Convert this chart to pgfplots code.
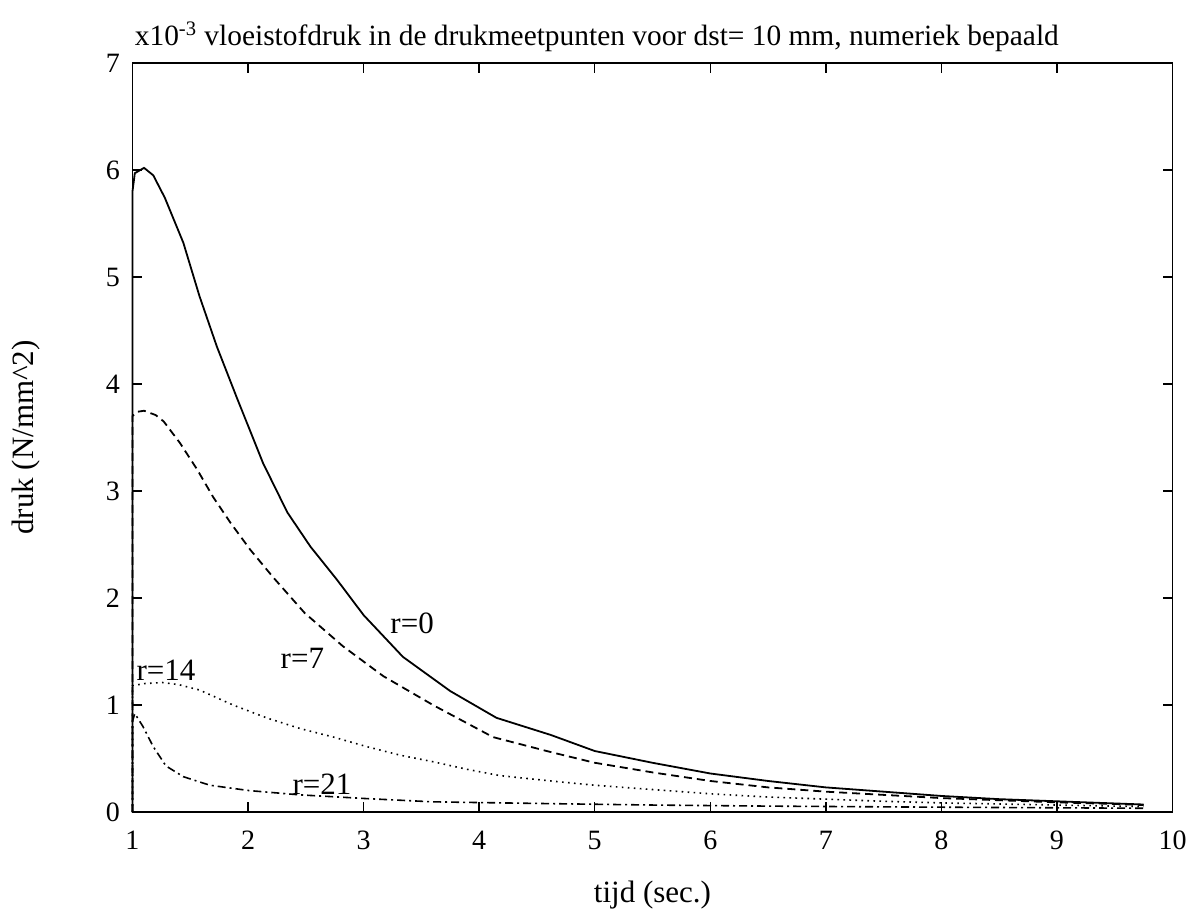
\documentclass[border=0pt]{standalone}
\usepackage{fontspec}
\setmainfont{Liberation Serif}
\usepackage{pgfplots}
\pgfplotsset{compat=1.18}
\begin{document}
\fontsize{15.5bp}{18bp}\selectfont
\begin{tikzpicture}
\begin{axis}[
  scale only axis,
  width=520bp, height=374.5bp,
  at={(0,0)}, anchor=south west,
  xmin=1, xmax=10, ymin=0, ymax=7,
  xtick={1,2,...,10}, ytick={0,1,...,7},
  tick align=inside,
  major tick length=5bp,
  xtick pos=both, ytick pos=both,
  /pgf/number format/assume math mode=true,
  tick label style={font=\fontsize{14bp}{16bp}\selectfont},
  xticklabel style={yshift=-4bp},
  yticklabel style={xshift=-1bp},
  axis line style={line width=0.9bp},
  every tick/.style={black, line width=0.7bp},
  clip=false,
]
\addplot[black, line width=0.9bp] coordinates {
(1,0) (1.0,5.8) (1.02,5.97) (1.1,6.02) (1.18,5.95) (1.28,5.74) (1.44,5.32) (1.58,4.82) (1.73,4.35) (1.9,3.88) (2.13,3.26) (2.34,2.80) (2.54,2.48) (2.77,2.17) (3.0,1.84) (3.34,1.45) (3.75,1.13) (4.15,0.88) (4.62,0.72) (5.0,0.57) (5.5,0.46) (6.0,0.36) (6.5,0.29) (7.0,0.23) (7.5,0.19) (8.0,0.15) (8.5,0.12) (9.0,0.10) (9.5,0.08) (9.75,0.07)
};
\addplot[black, line width=0.9bp, dash pattern=on 4bp off 2.5bp] coordinates {
(1,0) (1.0,3.7) (1.04,3.74) (1.1,3.75) (1.2,3.71) (1.27,3.65) (1.41,3.45) (1.56,3.2) (1.70,2.94) (1.85,2.70) (2.02,2.45) (2.22,2.19) (2.49,1.86) (2.82,1.55) (3.17,1.27) (3.6,1.0) (4.12,0.70) (4.62,0.56) (5.0,0.46) (5.5,0.37) (6.0,0.29) (6.5,0.23) (7.0,0.19) (7.5,0.16) (8.0,0.13) (8.5,0.11) (9.0,0.09) (9.5,0.075) (9.75,0.065)
};
\addplot[black, line width=0.8bp, dash pattern=on 0.8bp off 2.2bp] coordinates {
(1,0) (1.0,1.18) (1.1,1.2) (1.26,1.21) (1.4,1.19) (1.58,1.14) (1.87,1.0) (2.16,0.88) (2.45,0.78) (2.74,0.70) (3.03,0.61) (3.32,0.53) (3.6,0.47) (3.89,0.40) (4.18,0.34) (4.62,0.29) (5.0,0.25) (5.5,0.21) (6.0,0.17) (6.5,0.14) (7.0,0.12) (7.5,0.10) (8.0,0.085) (8.5,0.075) (9.0,0.065) (9.5,0.055) (9.75,0.05)
};
\addplot[black, line width=0.8bp, dash pattern=on 4bp off 2bp on 1bp off 2bp] coordinates {
(1,0) (1.0,0.85) (1.02,0.92) (1.09,0.80) (1.18,0.61) (1.29,0.43) (1.44,0.33) (1.67,0.25) (2.01,0.20) (2.45,0.16) (3.03,0.125) (3.6,0.095) (4.62,0.078) (5.5,0.065) (6.5,0.055) (7.5,0.048) (8.5,0.042) (9.75,0.035)
};
\node at (axis cs:3.42,1.76) {r=0};
\node at (axis cs:2.47,1.44) {r=7};
\node at (axis cs:1.29,1.32) {r=14};
\node at (axis cs:2.64,0.26) {r=21};
\node[anchor=base west, inner sep=0pt] at ([xshift=1bp,yshift=8.5bp]rel axis cs:0,1) {\fontsize{14.7bp}{17bp}\selectfont x10\textsuperscript{-3} vloeistofdruk in de drukmeetpunten voor dst= 10 mm, numeriek bepaald};
\node[rotate=90] at ([xshift=-53bp]rel axis cs:0,0.5) {druk (N/mm\^{}2)};
\node at ([yshift=-41.5bp]rel axis cs:0.5,0) {tijd (sec.)};
\end{axis}
\pgfresetboundingbox
\path[use as bounding box] (-66.25bp,-52bp) rectangle (530.25bp,406bp);
\end{tikzpicture}
\end{document}
